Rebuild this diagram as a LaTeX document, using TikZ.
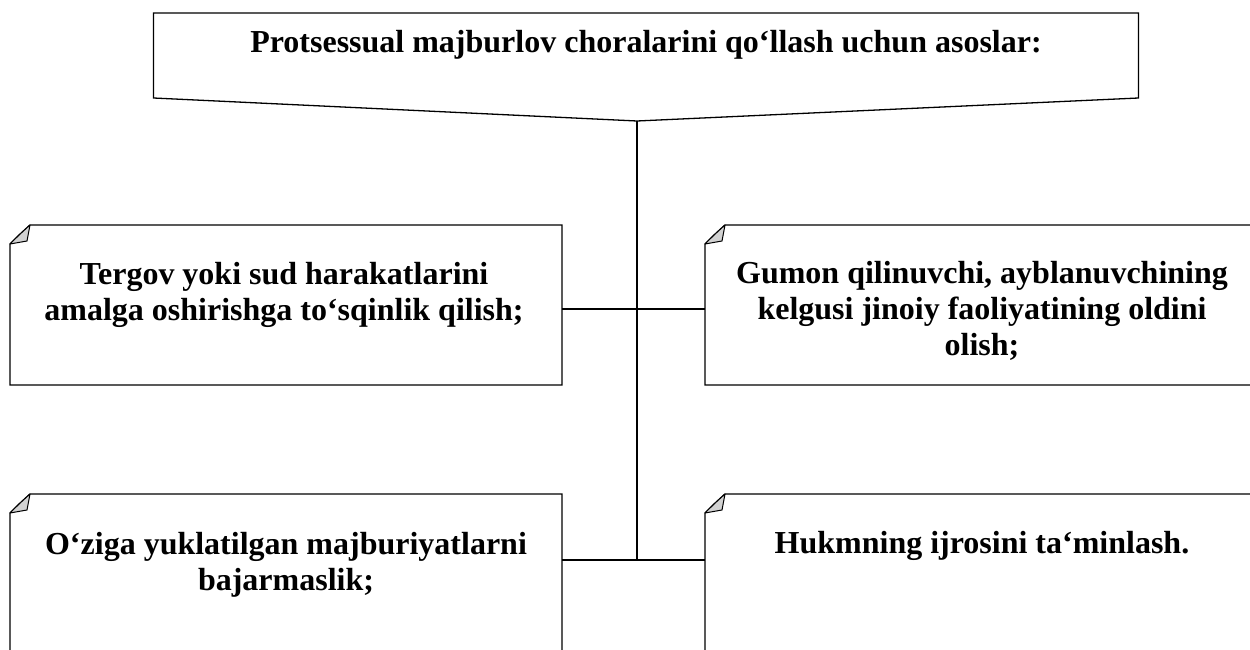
\documentclass[tikz,border=0pt]{standalone}
\usepackage{fontspec}
\setmainfont{Liberation Serif}
\begin{document}
\begin{tikzpicture}[x=1pt,y=-1pt,
  frame/.style={draw=black,line width=1.3pt,line join=miter},
  link/.style={draw=black,line width=1.2pt},
  label/.style={font=\fontsize{32}{36}\selectfont\bfseries,align=center,inner sep=0pt,anchor=base},
  fold/.style={fill=gray!35,draw=black,line width=1pt,line join=round}]
\useasboundingbox (0,0) rectangle (1250,650);
\begin{scope}
\clip (0,0) rectangle (1250,650);
% heading box with a dipped lower edge
\draw[frame] (153.5,13) -- (1138.5,13) -- (1138.5,98) -- (637,121) -- (153.5,98) -- cycle;
\coordinate (hub) at (637,121);
% note boxes with a turned-down corner
\foreach \xl/\xr/\yt/\yb in {10/562/225/385, 705/1270/225/385, 10/562/494/680, 705/1270/494/680}{
  \draw[frame] (\xl+20,\yt) -- (\xr,\yt) -- (\xr,\yb) -- (\xl,\yb) -- (\xl,\yt+19)
     .. controls (\xl+9,\yt+10) .. (\xl+20,\yt) -- cycle;
  \filldraw[fold] (\xl+20,\yt) .. controls (\xl+9,\yt+10) .. (\xl,\yt+19) -- (\xl+17,\yt+16) -- cycle;
}
\end{scope}
% connection points on the note boxes
\coordinate (ltE) at (562,309);
\coordinate (rtW) at (705,309);
\coordinate (lbE) at (562,560);
\coordinate (rbW) at (705,560);
\coordinate (spineEnd) at (637,560);
\draw[link] (hub) -- (spineEnd);
\draw[link] (ltE) -- (rtW);
\draw[link] (lbE) -- (rbW);
% texts (placed by the baseline of their last line)
\node[label] (title) at (646,53) {Protsessual majburlov choralarini qo‘llash uchun asoslar:};
\node[label] (t1) at (284,320) {Tergov yoki sud harakatlarini\\amalga oshirishga to‘sqinlik qilish;};
\node[label] (t2) at (982,355) {Gumon qilinuvchi, ayblanuvchining\\kelgusi jinoiy faoliyatining oldini\\olish;};
\node[label] (t3) at (286,590) {O‘ziga yuklatilgan majburiyatlarni\\bajarmaslik;};
\node[label] (t4) at (982,553) {Hukmning ijrosini ta‘minlash.};
\end{tikzpicture}
\end{document}
